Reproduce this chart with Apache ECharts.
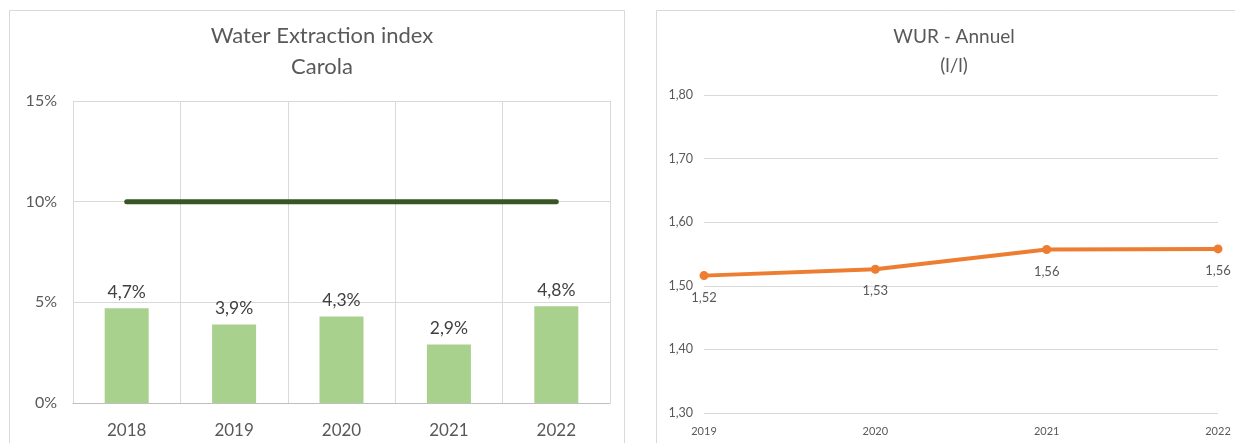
<!DOCTYPE html>
<html>
<head>
<meta charset="utf-8">
<script src="https://cdn.jsdelivr.net/npm/echarts@6/dist/echarts.min.js"></script>
<style>
  html, body { margin: 0; padding: 0; background: #fff; }
  #main { width: 1235px; height: 443px; }
</style>
</head>
<body>
<div id="main"></div>
<script>
  // left panel: water extraction index
  const WEI_YEARS = ['2018', '2019', '2020', '2021', '2022'];
  const WEI_VALUES = [4.7, 3.9, 4.3, 2.9, 4.8];
  const WEI_LIMIT = [10, 10, 10, 10, 10];
  // right panel: WUR annual
  const WUR_YEARS = ['2019', '2020', '2021', '2022'];
  const WUR_VALUES = [1.516, 1.526, 1.557, 1.558];

  const TXT = '#595959';
  const GRID = '#d9d9d9';
  const FONT = 'Lato, "Open Sans", sans-serif';

  function comma(v, d) {
    return v.toFixed(d).replace('.', ',');
  }

  const chart = echarts.init(document.getElementById('main'));
  chart.setOption({
    backgroundColor: '#fff',
    animation: false,
    textStyle: { fontFamily: FONT, color: TXT },
    graphic: [
      { type: 'rect', shape: { x: 9.5, y: 10.5, width: 615, height: 460 }, style: { fill: 'none', stroke: GRID, lineWidth: 1 } },
      { type: 'rect', shape: { x: 656.5, y: 10.5, width: 620, height: 460 }, style: { fill: 'none', stroke: GRID, lineWidth: 1 } }
    ],
    title: [
      {
        text: 'Water Extraction index\nCarola',
        left: 317, top: 15, textAlign: 'center',
        textStyle: { fontFamily: FONT, fontSize: 22, fontWeight: 'normal', color: TXT, lineHeight: 31 }
      },
      {
        text: 'WUR - Annuel\n(l/l)',
        left: 949, top: 17, textAlign: 'center',
        textStyle: { fontFamily: FONT, fontSize: 19, fontWeight: 'normal', color: TXT, lineHeight: 29 }
      }
    ],
    grid: [
      { left: 73, right: 625, top: 101, bottom: 40 },
      { left: 704, right: 17, top: 95, bottom: 30 }
    ],
    xAxis: [
      {
        gridIndex: 0,
        type: 'category',
        data: WEI_YEARS,
        boundaryGap: true,
        axisLine: { lineStyle: { color: '#bfbfbf' } },
        axisTick: { show: false },
        axisLabel: { fontFamily: FONT, fontSize: 17, color: TXT, margin: 19 },
        splitLine: { show: true, lineStyle: { color: GRID } }
      },
      {
        gridIndex: 1,
        type: 'category',
        data: WUR_YEARS,
        boundaryGap: false,
        axisLine: { show: false },
        axisTick: { show: false },
        axisLabel: { fontFamily: FONT, fontSize: 11, color: TXT, margin: 13 },
        splitLine: { show: false }
      }
    ],
    yAxis: [
      {
        gridIndex: 0,
        type: 'value',
        min: 0, max: 15, interval: 5,
        axisLine: { show: false },
        axisTick: { show: false },
        axisLabel: { fontFamily: FONT, fontSize: 16, color: TXT, margin: 16, formatter: '{value}%' },
        splitLine: { lineStyle: { color: GRID } }
      },
      {
        gridIndex: 1,
        type: 'value',
        min: 1.3, max: 1.8, interval: 0.1,
        axisLine: { show: false },
        axisTick: { show: false },
        axisLabel: { fontFamily: FONT, fontSize: 12.5, color: TXT, margin: 11, formatter: (v) => comma(v, 2) },
        splitLine: { lineStyle: { color: GRID } }
      }
    ],
    series: [
      {
        type: 'bar',
        xAxisIndex: 0, yAxisIndex: 0,
        data: WEI_VALUES,
        barWidth: 44,
        itemStyle: { color: '#a9d18e' },
        label: {
          show: true, position: 'top', distance: 7,
          fontFamily: FONT, fontSize: 17.5, color: '#404040',
          formatter: (p) => comma(p.value, 1) + '%'
        }
      },
      {
        type: 'line',
        xAxisIndex: 0, yAxisIndex: 0,
        data: WEI_LIMIT,
        symbol: 'none',
        lineStyle: { color: '#375623', width: 5, cap: 'round' },
        z: 3
      },
      {
        type: 'line',
        xAxisIndex: 1, yAxisIndex: 1,
        data: WUR_VALUES,
        symbol: 'circle',
        symbolSize: 9,
        lineStyle: { color: '#ed7d31', width: 4 },
        itemStyle: { color: '#ed7d31' },
        label: {
          show: true, position: 'bottom', distance: 11,
          fontFamily: FONT, fontSize: 13, color: TXT,
          formatter: (p) => comma(p.value, 2)
        }
      }
    ]
  });
</script>
</body>
</html>
